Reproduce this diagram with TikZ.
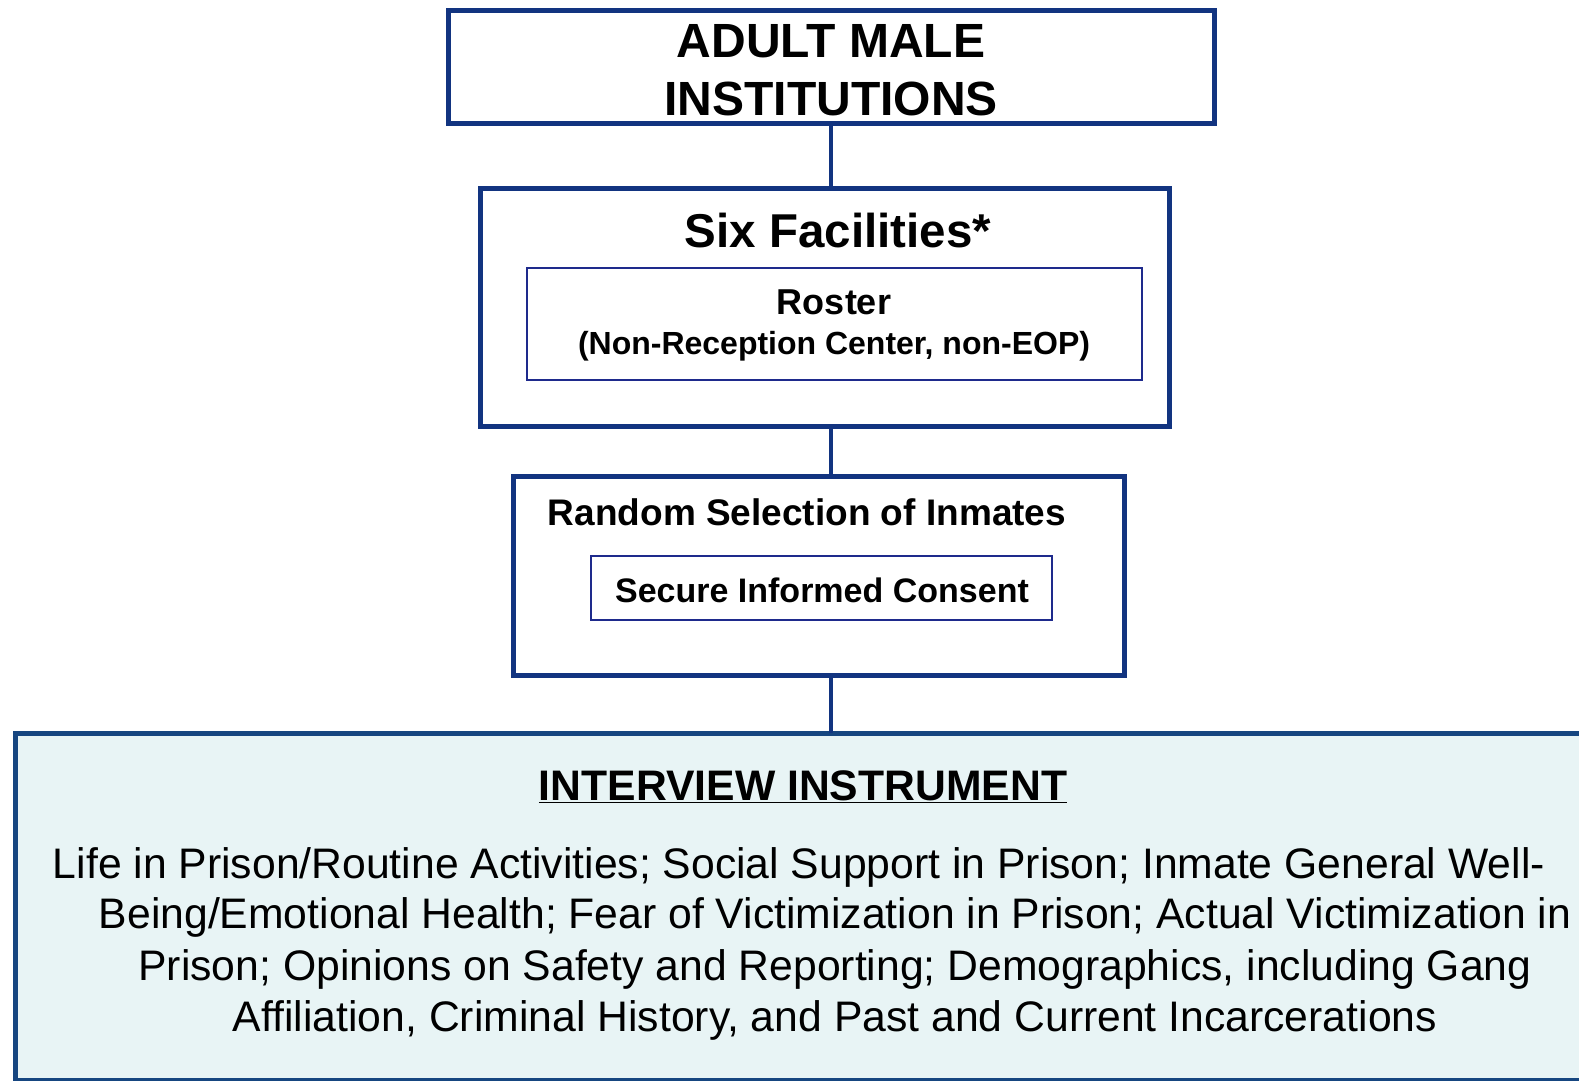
\documentclass[tikz,border=0pt]{standalone}
\usepackage{fontspec}
\setmainfont{Liberation Sans}
\definecolor{navy}{RGB}{18,52,128}
\definecolor{navyb}{RGB}{22,70,128}
\definecolor{thinb}{RGB}{30,42,140}
\definecolor{pale}{RGB}{232,244,245}
\tikzset{
  bigbox/.style={draw=navy, line width=5pt, inner sep=0pt, outer sep=0pt, rectangle},
  thinbox/.style={draw=thinb, line width=1.6pt, inner sep=0pt, outer sep=0pt, rectangle},
  link/.style={draw=navy, line width=4.5pt},
  lbl/.style={anchor=base, inner sep=0pt, outer sep=0pt},
}
\newcommand{\fsz}[1]{\fontsize{#1}{#1}\selectfont}
\begin{document}
\begin{tikzpicture}[x=1pt,y=-1pt]
\useasboundingbox (0,0) rectangle (1579,1081);
% boxes
\node[bigbox, minimum width=766pt, minimum height=112pt] (top) at (831,67) {};
\node[bigbox, minimum width=689pt, minimum height=238pt] (fac) at (824.5,307) {};
\node[thinbox, minimum width=615pt, minimum height=112pt] (roster) at (834.5,324) {};
\node[bigbox, minimum width=611pt, minimum height=199pt] (sel) at (818.5,575.5) {};
\node[thinbox, minimum width=461pt, minimum height=64pt] (cons) at (821.5,588) {};
\node[bigbox, draw=navyb, fill=pale, minimum width=1585pt, minimum height=347pt] (inst) at (807.5,906.5) {};
% connectors
\draw[link] (top.south) -- (top.south |- fac.north);
\draw[link] (fac.south -| top.south) -- (sel.north -| top.south);
\draw[link] (sel.south -| top.south) -- (inst.north -| top.south);
% texts
\node[lbl] (t1) at (831,57.5) {\fsz{48}\bfseries ADULT MALE};
\node[lbl] (t2) at (831,115) {\fsz{48}\bfseries INSTITUTIONS};
\node[lbl] (t3) at (838,247) {\fsz{47.5}\bfseries Six Facilities*};
\node[lbl] (t4) at (834,314) {\fsz{36}\bfseries Roster};
\node[lbl] (t5) at (834,354) {\fsz{32}\bfseries (Non-Reception Center, non-EOP)};
\node[lbl] (t6) at (807,525) {\fsz{37}\bfseries Random Selection of Inmates};
\node[lbl] (t7) at (822,602) {\fsz{34}\bfseries Secure Informed Consent};
\node[lbl] (t8) at (803,800) {\fsz{42.7}\bfseries\underline{INTERVIEW INSTRUMENT}};
\node[lbl] (b1) at (799,878) {\fsz{42.7}Life in Prison/Routine Activities; Social Support in Prison; Inmate General Well-};
\node[lbl] (b2) at (835,928) {\fsz{42.7}Being/Emotional Health; Fear of Victimization in Prison; Actual Victimization in};
\node[lbl] (b3) at (835,980) {\fsz{42.7}Prison; Opinions on Safety and Reporting; Demographics, including Gang};
\node[lbl] (b4) at (835,1031) {\fsz{42.7}Affiliation, Criminal History, and Past and Current Incarcerations};
\end{tikzpicture}
\end{document}
